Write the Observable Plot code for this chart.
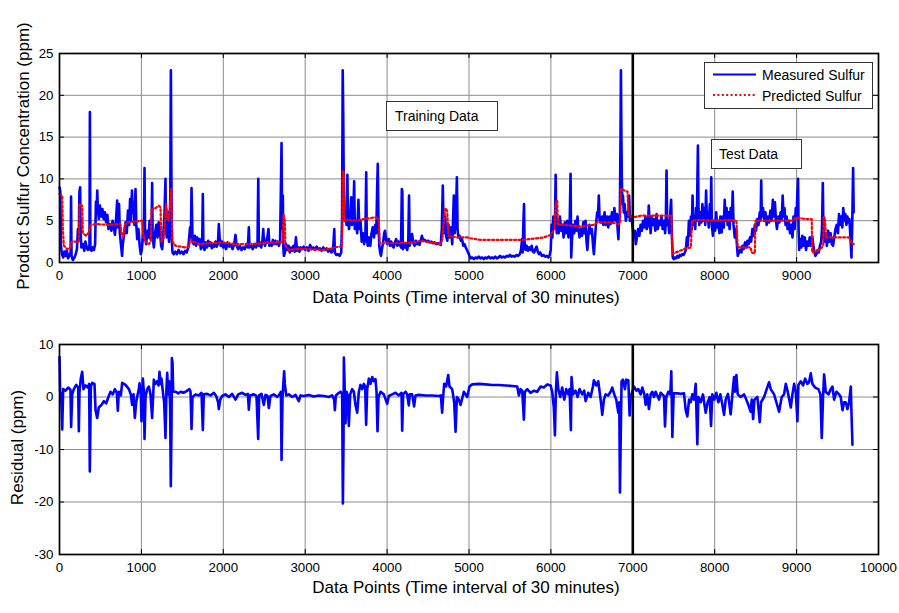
<!DOCTYPE html>
<html>
<head>
<meta charset="utf-8">
<script src="https://cdn.jsdelivr.net/npm/d3@7"></script>
<script src="https://cdn.jsdelivr.net/npm/@observablehq/plot@0.6"></script>
<style>
  html, body { margin: 0; padding: 0; background: #fff; }
  #chart { position: relative; width: 899px; height: 613px; overflow: hidden;
           font-family: "Liberation Sans", Arial, sans-serif; color: #000; background: #fff; }
  #chart .panel { position: absolute; left: 0; }
  .note { position: absolute; box-sizing: border-box; border: 1px solid #333; background: #fff;
          font-size: 14px; line-height: 28px; white-space: nowrap; }
  #legend { position: absolute; left: 704px; top: 62px; }
</style>
</head>
<body>
<div id="chart">
  <div id="top" class="panel" style="top:0"></div>
  <div id="bottom" class="panel" style="top:300px"></div>
  <div class="note" style="left:386px; top:101px; width:112px; height:30px; padding-left:8px;">Training Data</div>
  <div class="note" style="left:711px; top:139px; width:91px; height:30px; padding-left:7px;">Test Data</div>
  <svg id="legend" width="169" height="47"></svg>
</div>
<script>
// Measured product sulfur (ppm) by data point index
const measured = [
  [0,9.0],[10,8.5],[18,2.0],[30,1.0],[45,0.6],[60,1.3],[75,0.8],[90,1.5],[104,0.5],[124,0.9],
  [136,1.2],[141,7.9],[147,0.8],[163,0.3],[183,0.6],[198,1.0],[213,1.6],[225,4.0],[235,2.8],[243,8.4],
  [252,9.0],[258,3.5],[267,1.8],[287,2.2],[302,1.4],[316,2.5],[331,1.8],[346,1.5],[361,2.0],[366,1.6],
  [371,18.0],[377,1.6],[391,1.4],[405,1.8],[420,1.5],[435,2.2],[445,7.3],[453,6.0],[461,8.6],[467,6.5],
  [480,5.2],[494,6.8],[509,5.5],[524,6.4],[539,5.2],[554,6.0],[569,4.8],[584,5.7],[598,4.0],[613,4.6],
  [633,3.8],[648,5.0],[663,4.2],[677,3.3],[692,5.4],[704,7.4],[712,4.2],[727,7.0],[737,3.5],[752,2.0],
  [764,0.8],[773,2.2],[791,3.5],[806,4.8],[821,3.5],[836,6.2],[851,4.5],[862,7.6],[872,5.0],[885,8.6],
  [895,6.0],[905,7.2],[915,4.5],[928,8.8],[938,4.5],[949,2.8],[964,4.0],[979,2.0],[993,1.0],[1004,1.5],
  [1019,3.0],[1031,5.0],[1038,11.3],[1045,3.5],[1058,2.2],[1073,3.8],[1088,3.0],[1100,5.0],[1113,2.8],[1125,4.0],
  [1131,9.5],[1137,3.2],[1152,1.8],[1167,3.5],[1182,4.5],[1197,3.0],[1211,4.8],[1226,3.8],[1241,2.0],[1254,1.6],
  [1266,3.2],[1281,5.5],[1294,10.0],[1300,4.0],[1310,3.0],[1325,6.0],[1337,2.5],[1347,5.0],[1353,8.0],[1360,23.0],
  [1366,11.0],[1372,2.5],[1380,1.2],[1395,1.0],[1414,1.3],[1434,1.0],[1454,1.5],[1474,1.1],[1494,1.3],[1514,1.0],
  [1533,1.4],[1553,1.2],[1573,1.8],[1594,4.2],[1604,2.8],[1612,8.9],[1618,6.0],[1624,2.5],[1638,2.2],[1652,3.2],
  [1667,2.0],[1682,3.0],[1697,2.2],[1712,2.8],[1726,1.6],[1742,2.0],[1750,8.2],[1757,2.0],[1770,1.5],[1785,2.4],
  [1800,1.8],[1815,2.6],[1830,2.0],[1845,2.4],[1860,1.7],[1875,2.2],[1890,1.9],[1905,2.5],[1920,1.9],[1935,2.3],
  [1945,4.6],[1955,3.0],[1968,2.0],[1983,2.5],[1998,1.8],[2013,2.2],[2033,1.6],[2053,2.4],[2073,1.9],[2093,2.1],
  [2113,1.6],[2133,2.2],[2149,3.3],[2162,2.0],[2182,1.6],[2202,2.0],[2222,1.5],[2242,1.8],[2262,1.6],[2282,2.2],
  [2300,1.8],[2312,4.2],[2320,1.8],[2340,2.0],[2360,1.6],[2380,2.2],[2400,1.8],[2418,2.4],[2427,10.0],[2434,2.0],
  [2448,2.4],[2462,1.8],[2477,2.5],[2488,4.0],[2496,2.4],[2510,2.0],[2525,2.6],[2540,3.2],[2552,4.0],[2562,2.0],
  [2575,2.3],[2590,2.0],[2605,2.7],[2620,2.2],[2635,2.6],[2650,2.2],[2665,2.5],[2680,2.0],[2693,2.5],[2702,8.0],
  [2711,14.3],[2718,4.0],[2727,8.0],[2733,1.8],[2740,0.8],[2752,1.2],[2767,2.2],[2782,1.5],[2797,2.0],[2812,1.2],
  [2827,1.8],[2842,1.4],[2857,2.0],[2872,1.3],[2887,3.0],[2900,1.4],[2915,1.8],[2930,1.3],[2945,1.8],[2960,1.6],
  [2980,1.9],[3000,1.5],[3020,1.8],[3040,1.4],[3060,2.1],[3080,1.6],[3100,1.8],[3120,1.5],[3140,1.9],[3160,1.6],
  [3180,1.7],[3200,1.4],[3220,1.8],[3240,1.5],[3260,1.7],[3280,1.3],[3300,1.6],[3320,1.2],[3340,1.5],[3355,4.0],
  [3362,1.2],[3380,0.9],[3400,1.0],[3420,0.8],[3440,1.2],[3450,5.0],[3458,23.0],[3464,18.0],[3470,10.5],[3476,6.5],
  [3484,5.0],[3495,6.0],[3505,4.5],[3515,10.5],[3522,5.5],[3535,4.0],[3550,5.5],[3562,7.8],[3572,4.5],[3585,5.0],
  [3598,9.7],[3606,4.0],[3620,5.0],[3635,3.5],[3650,7.5],[3660,4.0],[3675,5.0],[3690,2.5],[3705,3.5],[3720,2.2],
  [3735,3.0],[3745,10.8],[3752,3.0],[3765,2.0],[3780,3.0],[3795,2.0],[3810,3.5],[3825,4.2],[3840,3.0],[3855,4.5],
  [3868,3.5],[3878,8.5],[3886,11.8],[3895,4.5],[3905,2.0],[3915,1.2],[3925,0.8],[3935,1.5],[3950,2.3],[3965,3.5],
  [3975,3.8],[3990,2.6],[4005,2.2],[4020,2.8],[4035,2.0],[4050,2.5],[4065,2.0],[4080,1.8],[4095,2.4],[4110,2.8],
  [4125,2.0],[4140,2.5],[4155,2.2],[4170,1.8],[4180,8.8],[4186,8.5],[4192,1.6],[4205,2.2],[4218,1.8],[4230,2.3],
  [4245,1.5],[4258,2.2],[4268,8.0],[4275,2.0],[4290,2.6],[4305,3.4],[4320,2.3],[4335,2.0],[4350,2.6],[4365,2.2],
  [4380,2.4],[4395,2.1],[4410,2.6],[4425,3.2],[4440,2.6],[4460,2.7],[4480,2.5],[4500,2.6],[4520,2.4],[4540,2.5],
  [4560,2.3],[4580,2.4],[4600,2.2],[4620,2.3],[4640,2.2],[4655,2.1],[4668,4.0],[4680,9.2],[4688,5.0],[4698,3.5],
  [4710,5.5],[4720,3.2],[4735,2.6],[4750,4.5],[4765,3.0],[4780,4.2],[4795,2.2],[4805,5.0],[4815,8.0],[4825,3.5],
  [4840,5.5],[4852,10.2],[4860,4.0],[4870,3.0],[4885,3.2],[4900,2.6],[4915,2.8],[4930,2.0],[4945,2.2],[4960,1.8],
  [4975,1.5],[4990,1.2],[5005,0.8],[5020,0.5],[5040,0.6],[5060,0.4],[5080,0.6],[5100,0.5],[5120,0.7],[5140,0.5],
  [5160,0.6],[5180,0.4],[5200,0.6],[5220,0.5],[5240,0.7],[5260,0.5],[5280,0.6],[5300,0.5],[5320,0.7],[5340,0.5],
  [5360,0.6],[5380,0.8],[5400,0.6],[5420,0.7],[5440,0.6],[5460,0.8],[5480,0.7],[5500,0.9],[5520,0.7],[5540,0.8],
  [5560,0.7],[5580,0.9],[5600,0.8],[5620,1.0],[5635,1.5],[5648,2.8],[5655,1.2],[5665,5.0],[5672,7.0],[5678,2.5],
  [5690,1.5],[5705,2.0],[5720,1.4],[5735,1.8],[5750,1.5],[5765,2.0],[5780,1.3],[5795,1.2],[5810,1.6],[5825,1.9],
  [5840,1.3],[5855,1.0],[5870,1.2],[5890,0.8],[5910,0.9],[5930,0.7],[5950,0.8],[5970,0.6],[5985,0.9],[5998,1.5],
  [6008,4.5],[6018,3.0],[6030,5.5],[6040,4.0],[6050,5.0],[6058,10.5],[6064,5.0],[6072,3.5],[6085,5.0],[6095,3.5],
  [6110,5.5],[6125,3.8],[6140,4.5],[6155,3.0],[6170,4.8],[6185,3.5],[6200,5.0],[6215,3.0],[6228,4.0],[6240,10.6],
  [6248,0.6],[6256,2.5],[6270,4.5],[6285,3.5],[6300,5.0],[6315,3.8],[6325,5.5],[6335,4.0],[6350,3.0],[6365,4.0],
  [6380,3.2],[6395,4.8],[6410,3.5],[6423,5.0],[6435,2.5],[6445,1.5],[6455,3.0],[6470,4.5],[6485,3.5],[6500,4.0],
  [6515,2.0],[6525,1.0],[6535,2.5],[6550,4.5],[6565,6.0],[6575,5.5],[6585,8.0],[6595,5.0],[6610,4.8],[6625,5.5],
  [6640,4.5],[6655,6.0],[6670,4.5],[6685,5.5],[6700,4.2],[6715,5.5],[6730,4.6],[6745,6.0],[6760,5.0],[6775,6.5],
  [6790,5.0],[6805,5.8],[6815,4.0],[6824,2.8],[6832,5.0],[6842,6.0],[6850,15.0],[6855,23.0],[6860,16.0],[6866,10.0],
  [6872,7.0],[6880,8.0],[6890,6.0],[6900,7.0],[6915,5.0],[6930,6.0],[6945,5.5],[6955,8.0],[6965,5.0],[6980,5.5],
  [6995,4.5],[7010,3.0],[7025,3.8],[7037,2.2],[7050,3.0],[7065,4.0],[7080,3.2],[7095,4.5],[7110,3.8],[7125,5.0],
  [7140,4.2],[7155,5.5],[7170,4.0],[7185,4.5],[7195,6.8],[7205,5.0],[7218,3.5],[7230,5.5],[7245,4.5],[7260,5.2],
  [7275,3.8],[7290,5.8],[7305,4.0],[7320,5.0],[7335,4.5],[7350,5.5],[7365,4.0],[7380,5.0],[7395,3.5],[7404,5.5],
  [7412,11.0],[7420,4.5],[7432,5.0],[7445,3.5],[7458,6.0],[7468,7.5],[7478,3.0],[7488,0.6],[7500,0.4],[7515,0.6],
  [7530,0.5],[7545,0.8],[7560,0.6],[7575,0.9],[7590,0.8],[7605,1.0],[7620,0.9],[7635,1.2],[7648,1.5],[7660,3.0],
  [7672,2.0],[7685,5.0],[7698,3.2],[7710,5.5],[7720,4.0],[7730,8.0],[7738,4.5],[7750,5.5],[7762,4.0],[7772,6.5],
  [7782,5.0],[7795,14.0],[7802,6.5],[7812,4.5],[7825,6.0],[7838,4.8],[7850,7.0],[7862,5.0],[7875,6.5],[7885,4.5],
  [7895,8.6],[7905,5.0],[7915,6.0],[7928,4.2],[7940,7.0],[7950,5.0],[7958,10.2],[7965,4.5],[7978,3.2],[7990,5.0],
  [8005,3.8],[8018,6.0],[8030,4.2],[8045,5.0],[8058,3.5],[8070,5.5],[8085,3.6],[8100,5.5],[8112,4.2],[8122,7.5],
  [8132,5.0],[8145,6.5],[8158,4.5],[8170,6.0],[8182,4.0],[8195,6.5],[8208,5.0],[8220,8.5],[8230,4.5],[8245,3.0],
  [8260,4.0],[8272,2.0],[8282,0.8],[8295,1.2],[8310,1.5],[8325,1.2],[8340,2.0],[8355,1.6],[8370,2.4],[8385,1.8],
  [8400,2.6],[8415,2.2],[8430,3.0],[8445,2.5],[8460,4.0],[8475,3.2],[8490,4.5],[8505,3.8],[8520,5.2],[8535,4.5],
  [8550,6.0],[8560,5.0],[8568,9.8],[8575,5.5],[8590,6.5],[8605,5.0],[8620,6.0],[8635,4.5],[8650,5.5],[8665,4.8],
  [8680,6.2],[8695,5.0],[8710,7.5],[8720,5.5],[8735,7.2],[8748,5.0],[8760,4.0],[8775,5.5],[8790,4.8],[8805,6.0],
  [8818,5.2],[8830,8.0],[8840,5.5],[8852,6.5],[8865,4.5],[8878,5.5],[8890,4.0],[8905,5.0],[8920,3.5],[8935,4.5],
  [8950,3.0],[8962,5.5],[8975,4.0],[8990,6.5],[9000,5.5],[9010,8.5],[9018,10.0],[9024,4.0],[9032,1.5],[9045,2.8],
  [9058,1.8],[9070,3.2],[9085,2.0],[9100,3.0],[9115,1.5],[9130,2.5],[9145,2.0],[9160,3.0],[9175,2.0],[9190,3.2],
  [9205,2.0],[9218,1.2],[9230,0.8],[9242,1.0],[9255,1.5],[9270,1.2],[9285,2.0],[9300,2.5],[9310,4.0],[9320,9.5],
  [9328,3.5],[9340,2.5],[9355,3.5],[9370,2.0],[9385,3.8],[9400,2.5],[9415,3.5],[9430,2.2],[9445,2.0],[9460,3.0],
  [9475,4.0],[9490,4.5],[9505,3.5],[9518,5.8],[9530,4.5],[9545,5.5],[9558,4.2],[9570,6.5],[9582,5.0],[9595,5.8],
  [9608,4.5],[9620,5.5],[9632,4.8],[9645,5.2],[9660,2.5],[9670,0.6],[9680,5.0],[9690,11.3],[9697,6.0]
];

// Model prediction of product sulfur (ppm)
const predicted = [
  [0,8.2],[33,8.0],[41,4.0],[53,2.0],[94,1.6],[134,1.8],[147,2.5],[236,2.5],[244,7.0],[277,6.8],
  [285,3.5],[326,3.2],[358,3.6],[378,4.5],[440,4.6],[602,4.5],[745,4.6],[757,3.5],[777,3.0],[798,4.5],
  [826,4.8],[1009,5.0],[1022,3.2],[1050,2.5],[1091,2.2],[1115,2.5],[1123,6.3],[1172,6.5],[1213,6.8],[1233,6.6],
  [1245,2.5],[1274,3.0],[1294,6.0],[1303,7.0],[1323,5.0],[1343,6.0],[1363,8.8],[1372,5.0],[1380,2.5],[1416,2.0],
  [1539,1.8],[1579,1.9],[1600,2.8],[1628,2.5],[1701,2.2],[1823,2.3],[1986,2.4],[2149,2.2],[2312,2.2],[2475,2.3],
  [2637,2.4],[2727,2.5],[2735,5.8],[2751,5.0],[2759,2.0],[2800,1.5],[2882,1.6],[3044,1.6],[3207,1.5],[3329,1.7],
  [3350,1.8],[3430,1.9],[3450,2.0],[3458,11.0],[3470,10.8],[3479,5.1],[3633,5.0],[3715,5.2],[3857,5.4],[3898,5.2],
  [3910,2.3],[4122,2.3],[4326,2.4],[4407,2.6],[4652,2.2],[4676,2.8],[4692,5.0],[4713,6.5],[4733,6.2],[4749,3.2],
  [4855,3.0],[4978,3.0],[5018,2.9],[5140,2.7],[5629,2.7],[5751,2.8],[5914,3.0],[5996,3.3],[6045,4.0],[6057,7.0],
  [6077,7.5],[6085,4.6],[6159,4.5],[6362,4.3],[6525,4.5],[6566,4.8],[6729,4.8],[6830,4.6],[6845,4.8],[6853,8.8],
  [6900,8.6],[6935,8.5],[6947,5.7],[7000,5.4],[7100,5.6],[7300,5.6],[7470,5.6],[7485,1.0],[7525,1.2],[7600,1.5],
  [7650,1.7],[7710,1.8],[7722,5.0],[7800,5.1],[8000,5.0],[8200,5.1],[8265,5.0],[8280,1.9],[8300,1.8],[8440,1.8],
  [8450,1.2],[8490,1.1],[8497,5.0],[8700,5.0],[8950,5.0],[8975,5.2],[9000,5.4],[9100,5.2],[9185,5.2],[9190,1.2],
  [9250,1.4],[9300,1.7],[9325,2.0],[9330,5.4],[9345,5.4],[9360,3.0],[9500,3.0],[9640,3.0],[9670,2.3],[9697,2.2]
];

// Residual (ppm) of the prediction
const residual = [
  [0,7.6],[8,1.0],[20,0.5],[33,-6.2],[45,1.5],[73,1.2],[106,1.8],[134,1.4],[142,-5.7],[155,0.5],
  [175,1.5],[204,2.3],[228,1.8],[236,-6.5],[244,1.0],[260,3.5],[277,4.8],[293,1.5],[317,2.2],[346,1.8],
  [362,2.5],[370,-14.2],[383,2.0],[399,2.7],[427,2.5],[440,-2.5],[460,-4.0],[480,-2.0],[513,-1.5],[541,-0.8],
  [570,-1.2],[602,0.2],[623,1.0],[651,0.5],[676,1.5],[700,0.8],[712,-2.6],[724,1.0],[749,0.3],[765,2.7],
  [806,2.3],[847,1.5],[871,0.5],[887,-1.5],[904,0.5],[920,-4.0],[936,-1.0],[948,0.0],[969,1.5],[977,2.6],
  [993,0.5],[1001,-4.6],[1018,3.5],[1030,1.0],[1038,-8.0],[1050,0.0],[1070,1.5],[1091,2.0],[1111,0.5],[1131,-4.0],
  [1144,0.5],[1152,3.3],[1172,2.5],[1193,3.0],[1209,2.2],[1221,4.8],[1233,2.5],[1245,3.5],[1262,1.0],[1278,-1.0],
  [1294,-7.8],[1306,1.5],[1315,4.6],[1327,0.5],[1339,3.0],[1351,-2.0],[1359,-17.0],[1368,-5.0],[1372,7.4],[1380,6.5],
  [1388,1.0],[1420,1.0],[1450,0.7],[1480,1.0],[1510,0.8],[1540,1.0],[1559,1.2],[1587,1.5],[1600,1.0],[1612,-6.1],
  [1624,0.0],[1661,0.5],[1701,0.3],[1734,0.8],[1750,-6.3],[1762,0.5],[1803,0.6],[1844,0.3],[1884,0.8],[1913,0.2],
  [1937,-1.0],[1945,-2.3],[1962,-0.5],[1986,0.2],[2027,0.5],[2068,0.0],[2108,0.6],[2149,-0.5],[2182,0.5],[2230,0.8],
  [2271,0.4],[2300,0.6],[2312,-2.4],[2324,0.3],[2373,0.5],[2405,0.2],[2426,-8.0],[2438,0.3],[2466,0.6],[2495,-1.5],
  [2515,0.4],[2540,0.2],[2556,-2.1],[2576,0.2],[2617,0.5],[2658,0.0],[2686,0.5],[2703,1.0],[2711,-12.0],[2723,0.0],
  [2735,3.0],[2743,4.9],[2751,2.5],[2768,0.3],[2800,0.5],[2841,0.0],[2882,0.4],[2922,-0.8],[2943,0.3],[2983,0.2],
  [3044,0.4],[3105,0.1],[3166,0.3],[3228,0.2],[3289,0.0],[3329,0.3],[3354,-0.5],[3362,-2.5],[3374,0.3],[3411,0.8],
  [3435,1.0],[3451,0.5],[3460,-20.3],[3468,-8.0],[3472,7.5],[3480,3.0],[3492,-5.0],[3504,1.0],[3516,0.5],[3533,-5.5],
  [3549,0.5],[3573,1.5],[3594,1.0],[3614,-1.5],[3635,-3.0],[3655,1.0],[3675,2.3],[3696,1.5],[3716,2.5],[3732,2.0],
  [3744,-5.3],[3757,1.5],[3777,3.5],[3797,2.5],[3818,3.8],[3838,3.0],[3858,3.4],[3871,1.0],[3883,-6.5],[3895,0.0],
  [3920,1.0],[3960,0.5],[4001,-1.3],[4021,0.2],[4062,0.5],[4103,0.8],[4143,0.3],[4176,0.8],[4184,-6.4],[4196,0.5],
  [4225,1.0],[4245,0.5],[4265,-1.6],[4277,0.5],[4306,0.5],[4330,-1.8],[4347,0.3],[4387,0.4],[4469,0.3],[4550,0.3],
  [4632,0.2],[4656,0.3],[4672,-3.0],[4684,0.0],[4697,2.5],[4721,2.0],[4746,4.2],[4762,2.0],[4795,1.5],[4819,-1.0],
  [4836,-6.6],[4852,0.0],[4876,-0.5],[4897,-1.5],[4937,1.0],[4978,0.0],[5006,2.0],[5039,2.4],[5120,2.5],[5202,2.4],
  [5283,2.3],[5365,2.3],[5446,2.2],[5527,2.1],[5589,2.0],[5609,0.3],[5629,1.5],[5650,1.2],[5670,-4.3],[5682,1.0],
  [5711,1.5],[5751,0.8],[5792,1.2],[5833,1.0],[5874,2.0],[5914,1.8],[5955,2.4],[5996,2.2],[6016,1.0],[6036,-2.0],
  [6049,-7.3],[6061,1.0],[6073,4.7],[6090,1.5],[6114,0.0],[6138,1.8],[6163,-0.5],[6187,1.5],[6212,0.5],[6228,1.5],
  [6244,-6.3],[6252,3.8],[6269,0.5],[6301,1.2],[6326,0.0],[6350,1.5],[6383,0.5],[6407,1.2],[6424,-0.8],[6456,0.8],
  [6485,0.0],[6513,2.0],[6525,3.2],[6554,2.2],[6578,3.0],[6595,1.0],[6615,-1.5],[6627,-3.4],[6647,-0.5],[6668,0.5],
  [6700,0.3],[6729,1.0],[6749,1.8],[6774,0.5],[6798,-0.5],[6823,-3.0],[6835,-1.0],[6843,-18.2],[6855,-5.0],[6863,3.0],
  [6880,3.3],[6904,1.5],[6920,3.3],[6945,3.2],[6961,-3.5],[6973,0.0],[6994,1.0],[7014,2.0],[7043,1.2],[7067,1.5],
  [7096,0.5],[7116,1.8],[7141,0.5],[7157,-1.5],[7177,0.5],[7197,-2.3],[7218,0.5],[7238,1.0],[7258,0.0],[7279,1.0],
  [7299,0.3],[7320,-0.5],[7340,0.8],[7360,0.5],[7381,0.2],[7393,-5.6],[7409,0.0],[7434,1.0],[7458,0.5],[7470,4.9],
  [7483,-7.6],[7499,0.7],[7544,0.7],[7585,0.6],[7625,0.7],[7646,-2.5],[7666,-3.7],[7687,-0.5],[7707,-1.0],[7727,0.5],
  [7748,-0.5],[7768,2.5],[7788,-9.0],[7800,0.0],[7829,-1.0],[7857,0.5],[7890,-3.0],[7914,-1.0],[7939,0.0],[7955,-5.5],
  [7971,0.5],[7996,-0.5],[8020,0.8],[8045,-1.0],[8069,0.5],[8094,-1.5],[8114,-3.4],[8134,-0.5],[8163,0.6],[8195,-3.3],
  [8216,0.5],[8236,3.8],[8248,1.0],[8265,4.2],[8281,0.5],[8318,0.0],[8359,0.5],[8399,-1.0],[8440,-2.8],[8452,-0.5],
  [8469,-4.2],[8485,-0.5],[8521,0.0],[8550,-4.8],[8566,-1.0],[8603,0.0],[8635,1.5],[8664,2.8],[8684,1.5],[8725,0.5],
  [8753,-1.0],[8786,-2.8],[8818,0.0],[8847,0.5],[8868,2.5],[8892,1.0],[8929,-2.0],[8949,0.5],[8970,2.5],[8990,1.0],
  [9010,-4.6],[9022,2.3],[9051,3.0],[9079,2.2],[9104,3.5],[9132,2.5],[9152,2.8],[9173,4.5],[9193,2.5],[9226,1.8],
  [9266,1.5],[9291,0.5],[9307,-7.8],[9323,0.0],[9336,4.3],[9356,1.0],[9389,0.5],[9417,1.5],[9438,2.0],[9458,-0.5],
  [9486,1.0],[9519,0.5],[9539,0.0],[9560,-2.5],[9580,-1.0],[9600,-1.0],[9621,-2.3],[9641,-1.0],[9662,2.0],[9670,-3.0],
  [9682,-9.1]
];

// Boundary between the training and the test data
const splitIndex = 7000;

// Axis ticks
const xTicks = [0, 1000, 2000, 3000, 4000, 5000, 6000, 7000, 8000, 9000, 10000];
const xTickLabelsTop = [0, 1000, 2000, 3000, 4000, 5000, 6000, 7000, 8000, 9000];
const yTicksTop = [0, 5, 10, 15, 20, 25];
const yTicksBottom = [-30, -20, -10, 0, 10];

const xLabel = "Data Points (Time interval of 30 minutes)";
const yLabelTop = "Product Sulfur Concentration (ppm)";
const yLabelBottom = "Residual (ppm)";
const seriesNames = ["Measured Sulfur", "Predicted Sulfur"];

const FONT = "Liberation Sans, Arial, Helvetica, sans-serif";
const BLUE = "#0000ff";
const RED = "#ff0000";
const GRID = "#8c8c8c";
const DOTS = "2,2.4";
const fmt = d => String(d);

function panel({height, marginTop, marginBottom, yDomain, yTicks, xLabels, yLabel, yLabelDx, xLabelDy, lines}) {
  const marginLeft = 59, marginRight = 21;
  const frameW = 899 - marginLeft - marginRight;
  const frameH = height - marginTop - marginBottom;
  const tick = 5;
  return Plot.plot({
    width: 899,
    height,
    marginTop, marginBottom, marginLeft, marginRight,
    x: {domain: [0, 10000]},
    y: {domain: yDomain},
    style: {fontFamily: FONT, fontSize: "13.3px", color: "#000", background: "transparent", overflow: "visible"},
    marks: [
      Plot.gridX(xTicks, {stroke: GRID, strokeOpacity: 1, strokeWidth: 1}),
      Plot.gridY(yTicks, {stroke: GRID, strokeOpacity: 1, strokeWidth: 1}),
      // inward tick marks on all four sides
      Plot.tickX(xTicks, {x: d => d, insetTop: frameH - tick, stroke: "#000"}),
      Plot.tickX(xTicks, {x: d => d, insetBottom: frameH - tick, stroke: "#000"}),
      Plot.tickY(yTicks, {y: d => d, insetRight: frameW - tick, stroke: "#000"}),
      Plot.tickY(yTicks, {y: d => d, insetLeft: frameW - tick, stroke: "#000"}),
      ...lines,
      Plot.ruleX([splitIndex], {stroke: "#000", strokeWidth: 2.6}),
      Plot.frame({stroke: "#000", strokeWidth: 1.7}),
      Plot.axisX(xLabels, {tickSize: 0, tickPadding: 8, tickFormat: fmt, label: null, fontSize: 13.3}),
      Plot.axisY(yTicks, {tickSize: 0, tickPadding: 6, tickFormat: fmt, label: null, fontSize: 13.3}),
      Plot.text([xLabel], {text: d => d, frameAnchor: "bottom", dy: xLabelDy, dx: -3, fontSize: 17, lineAnchor: "middle", textAnchor: "middle"}),
      Plot.text([yLabel], {text: d => d, frameAnchor: "left", dx: yLabelDx, dy: -2, rotate: -90, fontSize: 17, lineAnchor: "middle", textAnchor: "middle"})
    ]
  });
}

const topPlot = panel({
  height: 305, marginTop: 53, marginBottom: 43,
  yDomain: [0, 25], yTicks: yTicksTop, xLabels: xTickLabelsTop,
  yLabel: yLabelTop, yLabelDx: -36, xLabelDy: 35,
  lines: [
    Plot.line(measured, {x: d => d[0], y: d => d[1], stroke: BLUE, strokeWidth: 2.6, strokeLinejoin: "round"}),
    Plot.line(predicted, {x: d => d[0], y: d => d[1], stroke: RED, strokeWidth: 2.2, strokeDasharray: DOTS})
  ]
});
document.getElementById("top").append(topPlot);

const bottomPlot = panel({
  height: 313, marginTop: 44, marginBottom: 59,
  yDomain: [-30, 10], yTicks: yTicksBottom, xLabels: xTicks,
  yLabel: yLabelBottom, yLabelDx: -42, xLabelDy: 33,
  lines: [
    Plot.line(residual, {x: d => d[0], y: d => d[1], stroke: BLUE, strokeWidth: 2.6, strokeLinejoin: "round"})
  ]
});
document.getElementById("bottom").append(bottomPlot);

// Legend box with line samples
const legend = d3.select("#legend");
legend.append("rect").attr("x", 0.5).attr("y", 0.5).attr("width", 168).attr("height", 46)
  .attr("fill", "#fff").attr("stroke", "#333").attr("stroke-width", 1);
const rows = [
  {name: seriesNames[0], color: BLUE, dash: null, y: 12.5},
  {name: seriesNames[1], color: RED, dash: DOTS, y: 33}
];
for (const r of rows) {
  legend.append("line").attr("x1", 9).attr("x2", 52).attr("y1", r.y).attr("y2", r.y)
    .attr("stroke", r.color).attr("stroke-width", 2.2).attr("stroke-dasharray", r.dash);
  legend.append("text").attr("x", 58).attr("y", r.y + 1).attr("dy", "0.35em")
    .attr("font-family", FONT).attr("font-size", 14).attr("fill", "#000").text(r.name);
}
</script>
</body>
</html>
